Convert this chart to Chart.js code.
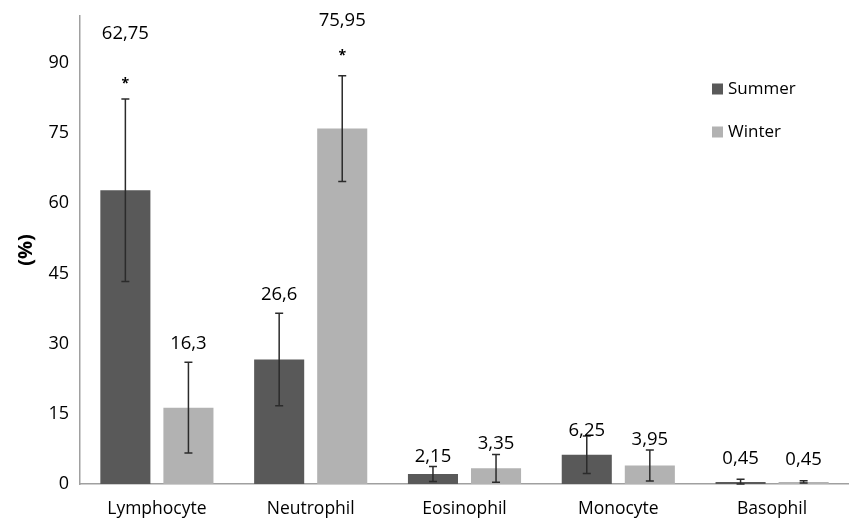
<!DOCTYPE html>
<html>
<head>
<meta charset="utf-8">
<script src="https://cdn.jsdelivr.net/npm/chart.js@4.4.1/dist/chart.umd.min.js"></script>
<style>
html,body{margin:0;padding:0;background:#fff;}
#wrap{width:849px;height:522px;position:relative;}
</style>
</head>
<body>
<div id="wrap"><canvas id="c" width="849" height="522"></canvas></div>
<script>
const categories = ['Lymphocyte', 'Neutrophil', 'Eosinophil', 'Monocyte', 'Basophil'];
const seriesNames = ['Summer', 'Winter'];
const summerValues = [62.75, 26.6, 2.15, 6.25, 0.45];
const winterValues = [16.3, 75.95, 3.35, 3.95, 0.45];
const summerSD = [19.5, 9.9, 1.6, 4.0, 0.55];
const winterSD = [9.7, 11.3, 2.95, 3.3, 0.25];
const summerSignificant = [true, false, false, false, false];
const winterSignificant = [false, true, false, false, false];
const yTickValues = [0, 15, 30, 45, 60, 75, 90];

const FONT = "'Open Sans', sans-serif";

const errorPlugin = {
  id: 'errorBarsAndLabels',
  afterDatasetsDraw(chart, args, opts) {
    const ctx = chart.ctx;
    const yScale = chart.scales.y;
    const sds = [summerSD, winterSD];
    const sig = [summerSignificant, winterSignificant];
    chart.data.datasets.forEach((ds, i) => {
      const meta = chart.getDatasetMeta(i);
      meta.data.forEach((bar, j) => {
        const v = ds.data[j];
        const sd = sds[i][j];
        const x = bar.x;
        const yTop = yScale.getPixelForValue(v + sd);
        const yBot = yScale.getPixelForValue(Math.max(0, v - sd));
        ctx.save();
        ctx.strokeStyle = '#2b2b2b';
        ctx.lineWidth = 1.5;
        ctx.beginPath();
        ctx.moveTo(x, yTop); ctx.lineTo(x, yBot);
        ctx.moveTo(x - 4, yTop); ctx.lineTo(x + 4, yTop);
        ctx.moveTo(x - 4, yBot); ctx.lineTo(x + 4, yBot);
        ctx.stroke();
        ctx.fillStyle = '#000';
        ctx.font = '18.5px ' + FONT;
        ctx.textAlign = 'center';
        ctx.textBaseline = 'alphabetic';
        const gap = opts.labelGap[i][j];
        ctx.fillText(String(v).replace('.', ','), x, yTop - gap + 6.6);
        if (sig[i][j]) {
          ctx.font = 'bold 14px ' + FONT;
          ctx.fillText('*', x, yTop - opts.starGap[i][j] + 8);
        }
        ctx.restore();
      });
    });
  },
  afterDraw(chart, args, opts) {
    const ctx = chart.ctx;
    ctx.save();
    chart.data.datasets.forEach((ds, i) => {
      const y = opts.legendY[i];
      ctx.fillStyle = ds.backgroundColor;
      ctx.fillRect(opts.legendX, y - 5.5, 11, 11);
      ctx.fillStyle = '#000';
      ctx.font = '17px ' + FONT;
      ctx.textAlign = 'left';
      ctx.textBaseline = 'middle';
      ctx.fillText(ds.label, opts.legendX + 16, y);
    });
    ctx.restore();
  }
};

new Chart(document.getElementById('c'), {
  type: 'bar',
  data: {
    labels: categories,
    datasets: [
      { label: seriesNames[0], data: summerValues, backgroundColor: '#595959', categoryPercentage: 0.82, barPercentage: 0.794 },
      { label: seriesNames[1], data: winterValues, backgroundColor: '#b2b2b2', categoryPercentage: 0.82, barPercentage: 0.794 }
    ]
  },
  options: {
    responsive: false,
    animation: false,
    layout: { padding: { top: 16, left: 0, right: 0, bottom: 0 } },
    plugins: {
      legend: { display: false },
      tooltip: { enabled: false },
      errorBarsAndLabels: {
        labelGap: [[67, 20, 11, 7, 22], [20, 56, 12, 12, 22]],
        starGap: [[19, 0, 0, 0, 0], [0, 24, 0, 0, 0]],
        legendX: 712,
        legendY: [89, 132]
      }
    },
    scales: {
      x: {
        grid: { display: false, drawTicks: false },
        border: { display: true, color: '#a0a0a0', width: 1.5 },
        ticks: { color: '#000', font: { family: FONT, size: 17.5 }, padding: 15 },
        afterFit(scale) { scale.height = 38; scale.paddingLeft = 0; scale.paddingRight = 0; }
      },
      y: {
        min: 0,
        max: 100,
        grid: { display: false, drawTicks: false },
        border: { display: true, color: '#a0a0a0', width: 1.5 },
        ticks: { color: '#000', font: { family: FONT, size: 18 }, padding: 11 },
        afterBuildTicks(scale) { scale.ticks = yTickValues.map(v => ({ value: v })); },
        title: { display: true, text: '(%)', color: '#000', font: { family: FONT, size: 20, weight: 'bold' }, padding: { top: 14, bottom: 0 } },
        afterFit(scale) { scale.width = 80; scale.paddingTop = 0; scale.paddingBottom = 0; }
      }
    }
  },
  plugins: [errorPlugin]
});
</script>
</body>
</html>
